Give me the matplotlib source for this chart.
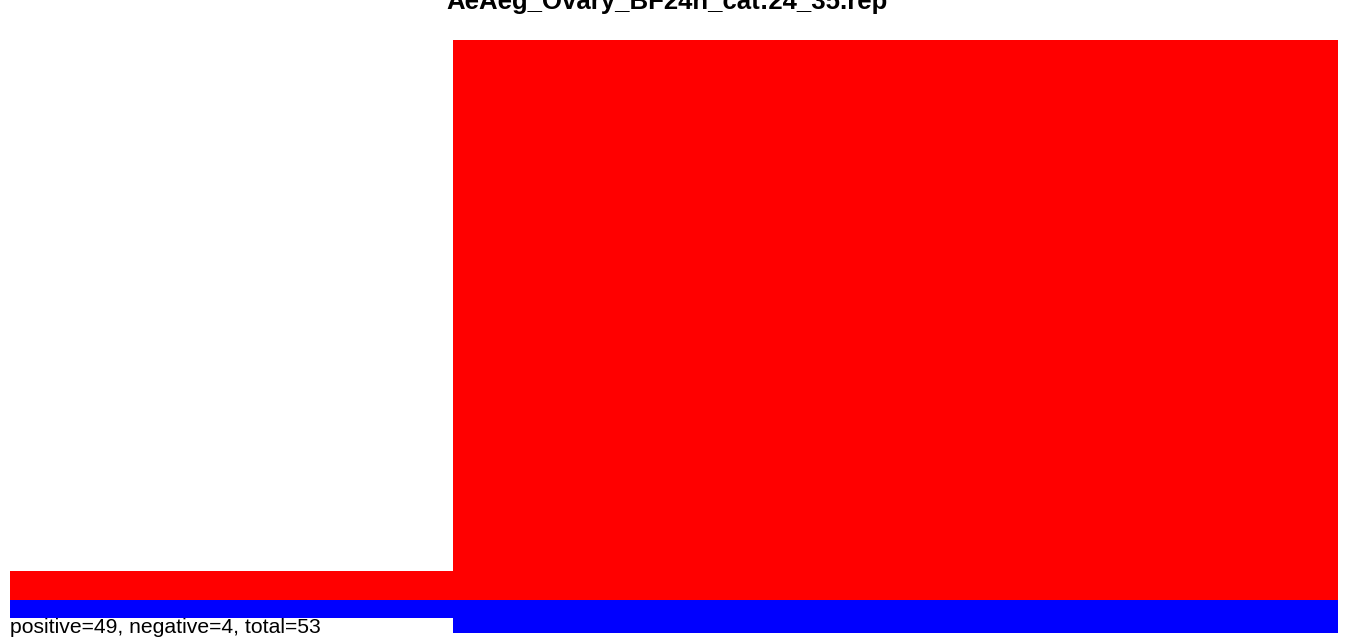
import matplotlib
matplotlib.use("Agg")
import matplotlib.pyplot as plt
import numpy as np

plt.rcParams['font.family'] = ['Liberation Sans', 'DejaVu Sans']

title = "AeAeg_Ovary_BF24h_cat:24_35.rep"
summary = "positive=49, negative=4, total=53"
bin_edges = [0, 1, 3]
positive = [2.5, 48.0]
negative = [1.55, 2.85]

W, H = 1350, 643
fig = plt.figure(figsize=(W / 100, H / 100), dpi=100)
ax = fig.add_axes([10 / W, 10 / H, 1328 / W, 593 / H])

edges = np.array(bin_edges, dtype=float)
widths = np.diff(edges)
ax.bar(edges[:-1], positive, width=widths, align='edge', color='#ff0000', linewidth=0)
ax.bar(edges[:-1], -np.array(negative), width=widths, align='edge', color='#0000ff', linewidth=0)
ax.axhline(0, color='#999999', lw=0.6, zorder=0)
ax.set_xlim(edges[0], edges[-1])
ax.set_ylim(-max(negative), max(positive))
ax.axis('off')

fig.text(667 / W, 1 - 9.5 / H, title, ha='center', va='baseline',
         fontsize=18.5, fontweight='bold', color='black')
fig.text(10 / W, 1 - 633 / H, summary, ha='left', va='baseline',
         fontsize=15.2, color='black')

fig.savefig('out.png', dpi=100)
